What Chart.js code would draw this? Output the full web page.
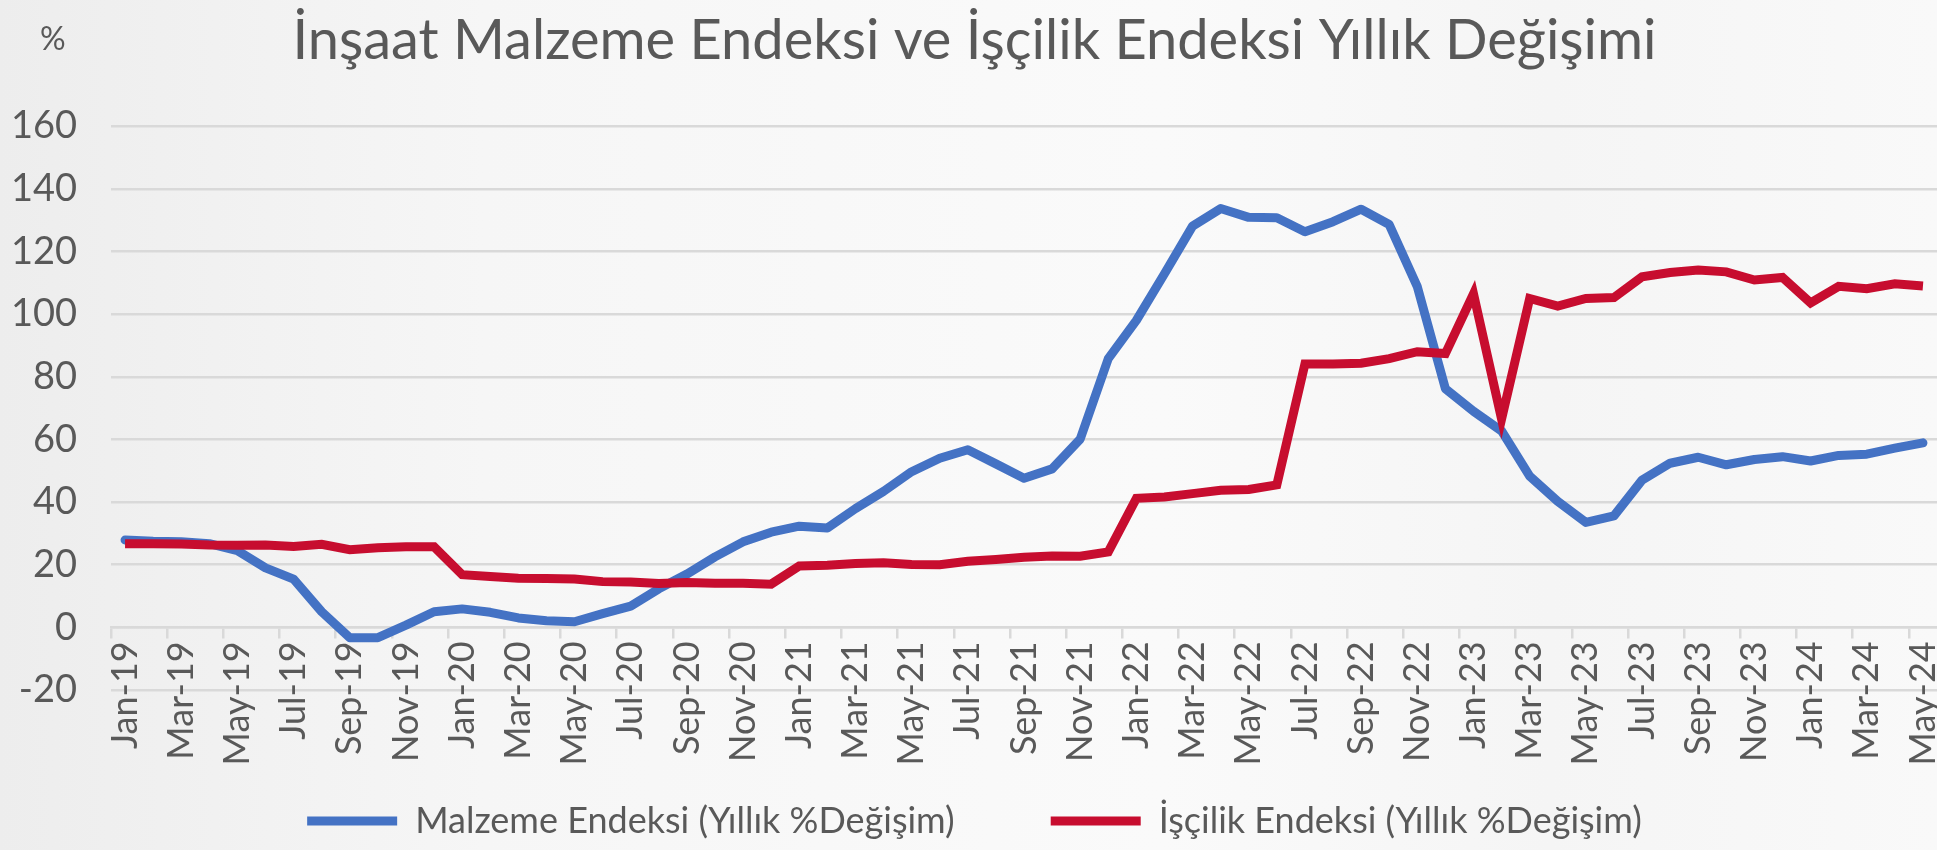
<!DOCTYPE html>
<html>
<head>
<meta charset="utf-8">
<script src="https://cdn.jsdelivr.net/npm/chart.js@4.4.1/dist/chart.umd.min.js"></script>
<style>
  html, body { margin: 0; padding: 0; }
  body {
    width: 1937px; height: 850px; overflow: hidden;
    background: linear-gradient(90deg, #ededed 0%, #f6f6f6 25%, #fafafa 60%, #f5f5f5 80%, #f9f9f9 100%);
  }
  #wrap { position: relative; width: 1937px; height: 850px; }
  #chartCanvas { display: block; }
  #unit { position: absolute; left: 40px; top: 18px; font: 32px Lato, sans-serif; color: #595959; }
</style>
</head>
<body>
<div id="wrap">
  <canvas id="chartCanvas" width="1937" height="850"></canvas>
  <div id="unit">%</div>
</div>
<script>
// aylar (kategori etiketleri)
const months = [
  'Jan-19','Feb-19','Mar-19','Apr-19','May-19','Jun-19','Jul-19','Aug-19','Sep-19','Oct-19','Nov-19','Dec-19',
  'Jan-20','Feb-20','Mar-20','Apr-20','May-20','Jun-20','Jul-20','Aug-20','Sep-20','Oct-20','Nov-20','Dec-20',
  'Jan-21','Feb-21','Mar-21','Apr-21','May-21','Jun-21','Jul-21','Aug-21','Sep-21','Oct-21','Nov-21','Dec-21',
  'Jan-22','Feb-22','Mar-22','Apr-22','May-22','Jun-22','Jul-22','Aug-22','Sep-22','Oct-22','Nov-22','Dec-22',
  'Jan-23','Feb-23','Mar-23','Apr-23','May-23','Jun-23','Jul-23','Aug-23','Sep-23','Oct-23','Nov-23','Dec-23',
  'Jan-24','Feb-24','Mar-24','Apr-24','May-24'
];

// Malzeme Endeksi (Yıllık %Değişim)
const malzeme = [
  27.9, 27.5, 27.3, 26.7, 24.5, 19.0, 15.4, 5.0, -3.3, -3.3, 0.7, 5.0,
  5.9, 4.8, 3.0, 2.1, 1.8, 4.4, 6.8, 12.3, 17.0, 22.5, 27.3, 30.4,
  32.3, 31.7, 37.9, 43.4, 49.7, 54.0, 56.7, 52.2, 47.6, 50.6, 60.1, 85.8,
  98.0, 112.9, 128.1, 133.7, 130.9, 130.8, 126.3, 129.5, 133.5, 128.6, 108.8, 76.2,
  69.0, 62.7, 48.3, 40.2, 33.5, 35.6, 47.0, 52.4, 54.3, 51.9, 53.6, 54.5,
  53.1, 54.9, 55.3, 57.2, 58.9
];

// İşçilik Endeksi (Yıllık %Değişim)
const iscilik = [
  26.7, 26.7, 26.6, 26.3, 26.2, 26.3, 25.8, 26.5, 24.8, 25.4, 25.7, 25.7,
  16.8, 16.2, 15.7, 15.6, 15.4, 14.6, 14.5, 14.0, 14.3, 14.1, 14.1, 13.8,
  19.6, 19.8, 20.4, 20.6, 20.1, 20.0, 21.1, 21.7, 22.4, 22.8, 22.7, 24.1,
  41.2, 41.6, 42.7, 43.8, 44.0, 45.5, 84.1, 84.1, 84.3, 85.8, 88.0, 87.4,
  106.5, 66.5, 105.0, 102.6, 105.0, 105.3, 111.9, 113.3, 114.1, 113.5, 110.9, 111.7,
  103.6, 108.9, 108.1, 109.7, 109.0
];

const textColor = '#595959';
const gridColor = '#d9d9d9';
const fontName = 'Lato';

const ctx = document.getElementById('chartCanvas').getContext('2d');
const chart = new Chart(ctx, {
  type: 'line',
  data: {
    labels: months,
    datasets: [
      {
        label: 'Malzeme Endeksi (Yıllık %Değişim)',
        data: malzeme,
        borderColor: '#4472C4',
        backgroundColor: '#4472C4',
        borderWidth: 9,
        borderCapStyle: 'round',
        borderJoinStyle: 'round',
        pointRadius: 0,
        tension: 0,
        order: 1
      },
      {
        label: 'İşçilik Endeksi (Yıllık %Değişim)',
        data: iscilik,
        borderColor: '#C70D2F',
        backgroundColor: '#C70D2F',
        borderWidth: 9,
        borderCapStyle: 'butt',
        borderJoinStyle: 'miter',
        pointRadius: 0,
        tension: 0,
        order: 0
      }
    ]
  },
  options: {
    responsive: false,
    animation: false,
    layout: { padding: { left: 12, right: 0, top: 0, bottom: 1 } },
    plugins: {
      title: {
        display: true,
        text: 'İnşaat Malzeme Endeksi ve İşçilik Endeksi Yıllık Değişimi',
        color: textColor,
        font: { family: fontName, size: 56, weight: 'normal' },
        padding: { top: 7, bottom: 52 }
      },
      legend: {
        position: 'bottom',
        // boş başlık: öğeleri aşağı itmek için
        title: { display: true, text: '', font: { size: 10 }, padding: { top: 0, bottom: 5 } },
        labels: {
          color: textColor,
          font: { family: fontName, size: 36 },
          usePointStyle: true,
          pointStyle: 'line',
          pointStyleWidth: 90,
          padding: 96,
          sort: (a, b) => a.datasetIndex - b.datasetIndex
        }
      },
      tooltip: { enabled: false }
    },
    scales: {
      x: {
        position: { y: 0 },
        offset: true,
        afterFit: (s) => { s.paddingLeft = 0; s.paddingRight = 0; },
        grid: {
          offset: true,
          drawOnChartArea: false,
          drawTicks: true,
          tickLength: 10,
          lineWidth: 2.5,
          color: (c) => (c.index % 2 === 0 ? gridColor : 'rgba(0,0,0,0)')
        },
        border: { color: gridColor, width: 2.5 },
        ticks: {
          autoSkip: false,
          minRotation: 90,
          maxRotation: 90,
          padding: 4,
          color: textColor,
          font: { family: fontName, size: 36 },
          callback: function (value, index) {
            return index % 2 === 0 ? this.getLabelForValue(value) : '';
          }
        }
      },
      y: {
        min: -20,
        max: 160,
        afterFit: (s) => { s.width = 99; },
        ticks: {
          stepSize: 20,
          padding: 34,
          color: textColor,
          font: { family: fontName, size: 38 }
        },
        grid: { color: gridColor, lineWidth: 2.5, drawTicks: false },
        border: { display: false }
      }
    }
  }
});
</script>
</body>
</html>
